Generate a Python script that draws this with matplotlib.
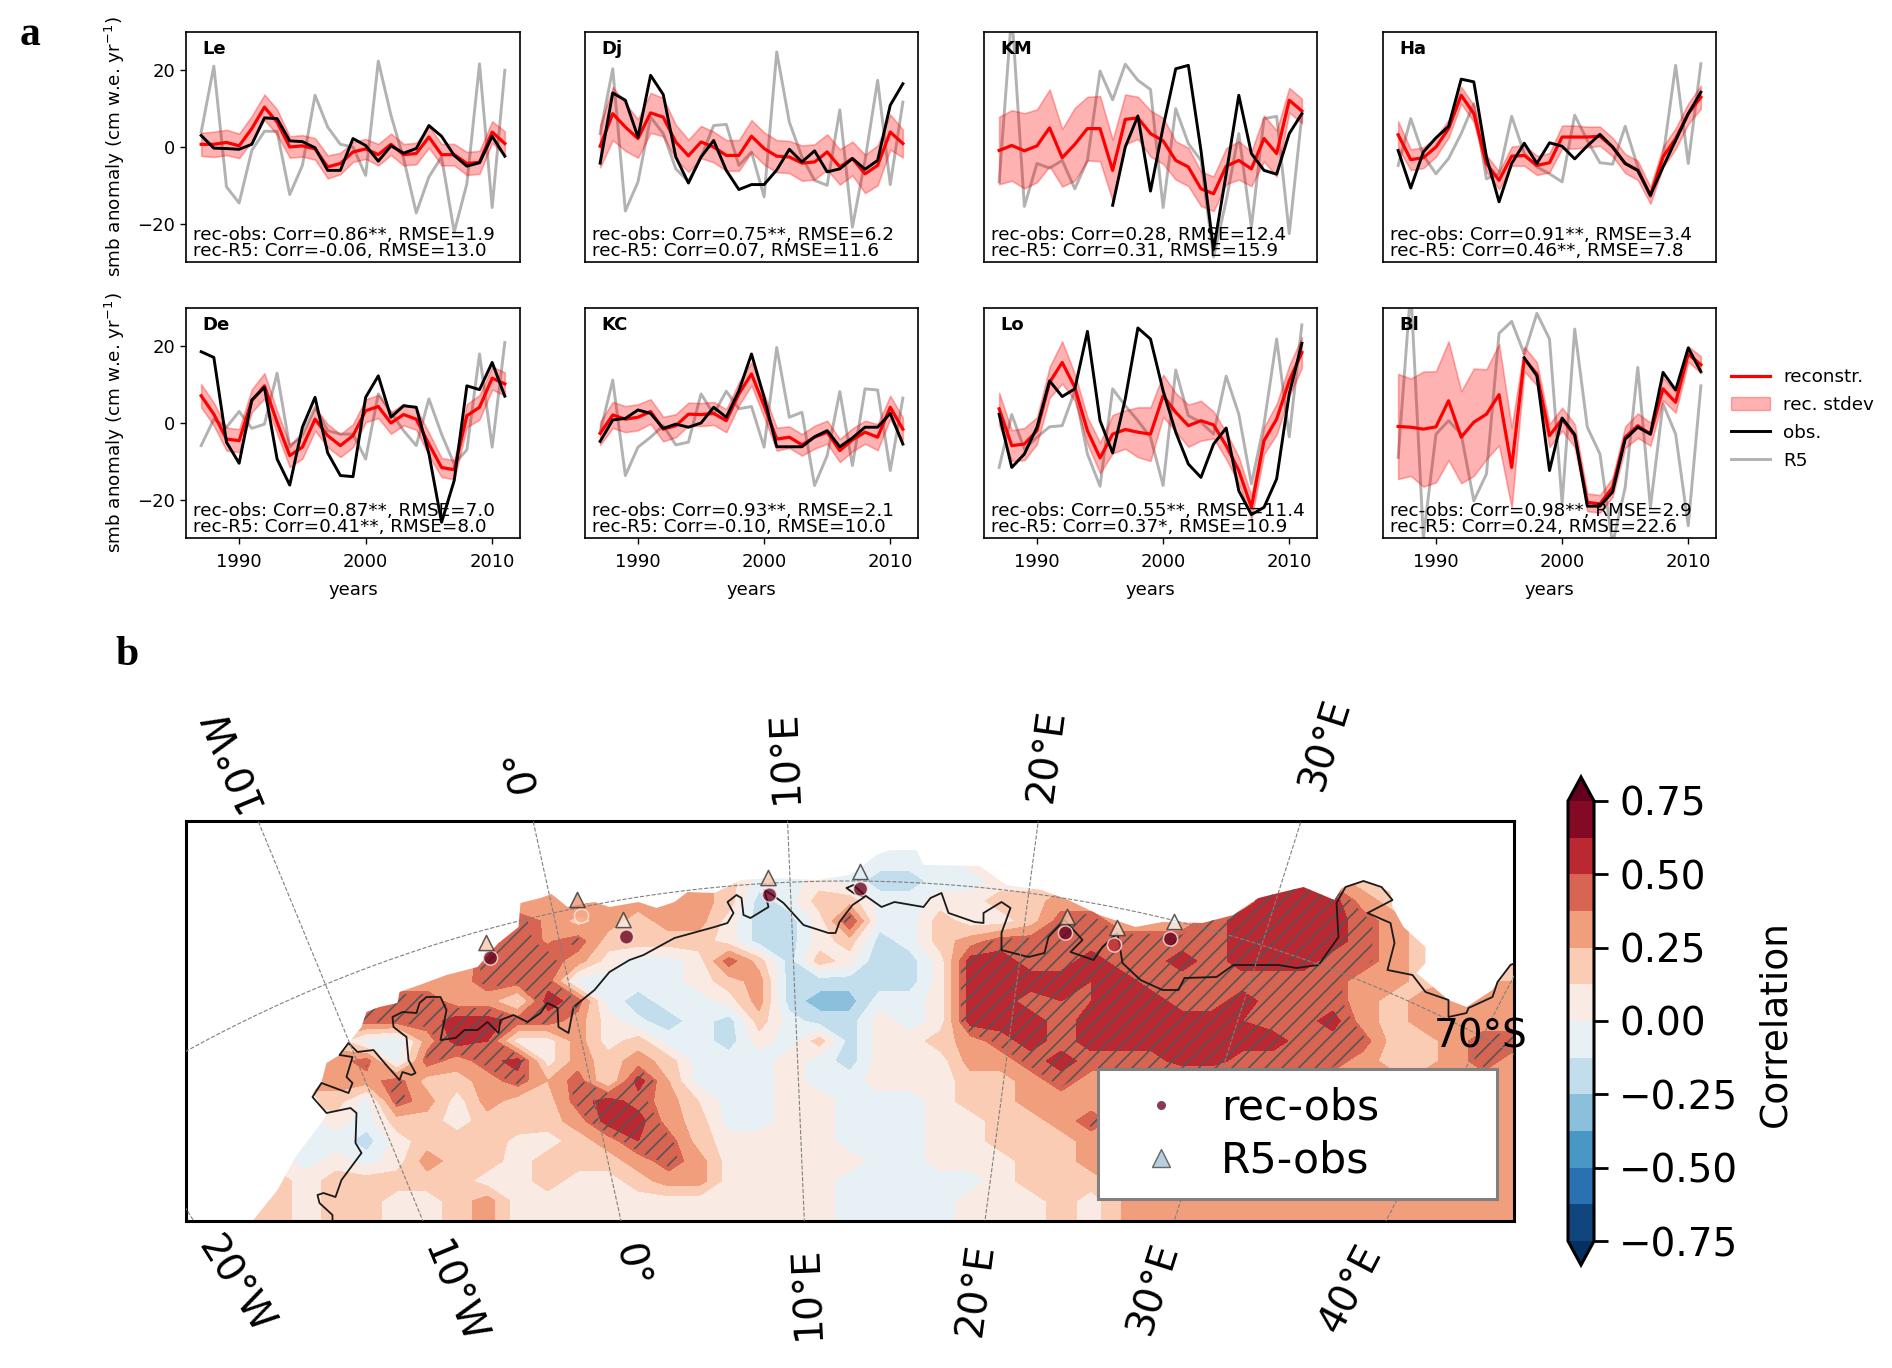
import numpy as np
import matplotlib
matplotlib.use('Agg')
import matplotlib.pyplot as plt
from matplotlib.lines import Line2D
from matplotlib.patches import Patch, Polygon

nan = np.nan
W, H = 1892, 1368

years = np.arange(1987, 2012)

rec_le = [0.7, 0.7, 1.2, 0.3, 4.8, 10.4, 6.5, 0.0, 0.3, -0.5, -5.2, -4.3, -1.3, -0.5, -2.0, 0.7, -2.0, -1.7, 2.6, -2.0, -2.0, -4.3, -4.0, 3.9, 0.9]
std_le = [3.0, 3.3, 3.3, 3.2, 3.3, 3.3, 3.3, 2.8, 2.8, 2.8, 3.0, 2.8, 2.6, 2.6, 2.8, 2.8, 2.8, 2.8, 2.8, 2.8, 2.8, 3.0, 3.0, 2.8, 3.2]
obs_le = [3.0, -0.3, -0.4, -0.6, 0.7, 7.6, 7.4, 1.6, 1.4, -0.2, -6.1, -6.1, 2.2, 0.4, -3.7, 0.3, -1.6, -0.4, 5.6, 2.8, -2.2, -5.0, -4.1, 2.8, -2.4]
r5_le = [3.9, 21.1, -10.4, -14.6, -0.9, 4.1, 4.1, -12.4, -4.8, 13.5, 5.2, 0.7, 0.0, -7.4, 22.4, 8.3, -3.0, -17.2, -7.8, -2.6, -22.2, -9.6, 21.7, -15.8, 20.0]

rec_dj = [0.2, 8.7, 5.2, 2.2, 8.9, 7.8, 1.3, -2.3, 1.3, 0.0, -2.2, -2.2, 2.8, -0.4, -2.4, -2.6, -4.2, -3.9, -1.3, -5.2, -3.0, -7.0, -4.8, 3.9, 0.9]
std_dj = [5.5, 6.9, 6.2, 5.0, 5.2, 5.0, 4.5, 4.2, 4.2, 4.0, 4.0, 4.0, 4.2, 4.2, 4.2, 4.2, 4.6, 4.6, 4.6, 4.6, 4.4, 5.0, 5.2, 4.6, 3.6]
obs_dj = [-4.2, 14.1, 12.2, 2.6, 18.7, 13.7, -2.6, -9.4, -2.6, 1.7, -6.1, -11.1, -9.8, -9.8, -6.0, -0.6, -3.9, -1.0, -6.5, -5.7, -3.0, -5.8, -3.5, 10.9, 16.5]
r5_dj = [3.5, 20.4, -16.7, -9.1, 7.8, 3.5, -5.7, -9.0, -2.6, 5.6, 5.9, -4.8, -1.3, -13.0, 24.8, 6.5, -2.6, -8.7, -10.0, 9.7, -20.9, -3.5, 17.4, -9.8, 11.7]

rec_km = [-0.9, 0.4, -1.0, 0.3, 5.0, -2.8, 0.7, 4.8, 4.8, -6.1, 7.2, 7.6, 3.5, 1.6, -3.5, -5.2, -10.9, -12.2, -5.0, -3.5, -5.7, 2.2, -1.7, 12.2, 9.4]
std_km = [8.8, 9.2, 9.8, 9.5, 10.0, 7.5, 9.5, 8.3, 8.5, 8.0, 6.5, 5.5, 6.0, 6.0, 5.0, 5.0, 4.5, 4.5, 4.7, 5.0, 4.5, 6.0, 6.0, 3.2, 3.2]
obs_km = [nan, nan, nan, nan, nan, nan, nan, nan, nan, -15.2, 0.0, 8.1, -11.5, 5.2, 20.4, 21.3, -0.9, -26.8, -7.0, 13.5, -1.7, -6.1, -7.1, 3.5, 8.7]
r5_km = [-9.1, 35.0, -15.5, -4.3, -5.5, -3.5, -10.9, -3.5, 19.8, 12.3, 21.6, 17.4, 15.0, -15.8, 10.0, 0.9, -3.5, -28.7, -14.0, 3.5, -20.9, 7.4, 8.0, -22.6, 8.3]

rec_ha = [3.2, -3.3, -2.8, 0.0, 4.8, 13.5, 8.7, -4.3, -8.7, -2.4, -2.2, -4.8, -4.1, 2.6, 2.6, 2.6, 2.8, 0.0, -4.3, -6.1, -12.6, -2.6, 2.2, 8.7, 13.0]
std_ha = [3.5, 2.7, 2.7, 2.5, 2.3, 2.2, 2.2, 2.2, 2.3, 2.5, 2.7, 2.5, 2.5, 3.0, 3.0, 2.7, 2.5, 2.4, 2.5, 2.5, 2.2, 2.7, 2.7, 2.7, 3.0]
obs_ha = [-0.9, -10.7, -1.3, 2.4, 5.4, 17.7, 17.0, -2.6, -14.3, -4.3, 1.0, -4.3, 1.1, 0.2, -3.1, 0.3, 3.3, 0.0, -4.3, -6.1, -12.6, -5.2, 1.7, 8.7, 14.3]
r5_ha = [-4.8, 7.4, -2.2, -7.0, -3.0, 3.5, 11.3, -8.3, -7.0, 8.0, -1.7, -5.2, -7.0, -9.1, 8.3, 1.7, -4.1, -4.5, 5.4, -5.2, -13.0, -2.6, 21.3, -4.3, 21.7]

rec_de = [7.1, 2.3, -4.2, -4.6, 5.8, 9.7, 0.2, -8.5, -6.3, 1.0, -3.3, -5.9, -3.3, 3.2, 4.3, 0.0, 2.2, 1.0, -5.5, -11.6, -12.2, 1.9, 4.1, 11.7, 10.2]
std_de = [3.0, 3.0, 3.0, 3.0, 3.0, 3.3, 3.0, 3.0, 3.0, 3.0, 3.0, 3.0, 3.0, 3.0, 3.0, 2.8, 2.8, 2.8, 3.0, 2.5, 2.5, 3.0, 3.2, 3.0, 3.0]
obs_de = [18.6, 17.1, -5.0, -10.5, 6.0, 9.3, -9.4, -16.2, -1.1, 6.7, -7.8, -13.7, -14.0, 6.7, 12.3, 1.5, 4.5, 4.1, -8.0, -25.9, -15.0, 9.7, 8.7, 15.8, 7.0]
r5_de = [-5.9, 1.0, -1.1, 3.0, -1.4, -0.3, 13.0, -6.3, -2.9, 4.1, -2.0, -2.9, -2.9, -9.4, 7.6, 2.8, -2.0, -5.9, 6.3, -2.9, -10.7, -7.0, 18.0, -6.3, 21.0]

rec_kc = [-2.7, 2.1, 1.0, 1.5, 3.0, -1.6, -0.7, 2.3, 2.2, 2.5, 0.6, 7.6, 12.8, 4.5, -4.2, -3.7, -5.7, -3.7, -2.4, -7.2, -4.4, -2.4, -3.7, 4.1, -1.6]
std_kc = [3.0, 3.4, 3.4, 3.4, 3.2, 3.2, 3.0, 3.0, 3.0, 3.0, 3.0, 3.0, 3.0, 3.0, 3.0, 2.8, 2.8, 3.0, 3.0, 3.0, 3.0, 3.0, 3.4, 3.0, 3.0]
obs_kc = [-4.8, 0.8, 1.2, 3.4, 2.5, -1.4, -0.3, -1.1, 0.0, 4.1, 1.5, 8.4, 18.0, 6.7, -6.2, -6.2, -6.2, -3.6, -2.0, -6.2, -3.9, -1.1, -1.1, 2.5, -5.5]
r5_kc = [-2.4, 11.2, -13.7, -6.3, -3.7, -0.7, -5.7, -5.0, 7.6, 2.3, 8.3, 3.7, 4.3, -6.3, 19.7, 1.5, 2.8, -16.3, -8.5, 8.2, -11.1, 8.9, 8.6, -12.4, 6.5]

rec_lo = [3.7, -5.9, -5.5, -2.0, 10.6, 15.8, 9.3, -2.0, -9.1, -2.9, -1.7, -2.4, -2.9, 7.1, 2.8, -0.7, 0.6, -0.5, -5.9, -12.4, -22.0, -4.6, 1.0, 11.0, 18.4]
std_lo = [4.2, 4.0, 4.2, 3.5, 4.0, 5.5, 3.5, 3.5, 4.0, 5.0, 5.0, 6.5, 7.0, 5.5, 5.0, 5.5, 5.2, 3.5, 3.5, 3.5, 3.0, 3.5, 4.0, 4.0, 4.0]
obs_lo = [2.3, -11.6, -8.1, -1.1, 11.0, 6.9, 8.9, 23.9, 0.6, -7.8, 6.3, 24.8, 21.9, 8.4, -2.4, -10.7, -14.2, -5.5, -1.3, -17.7, -23.9, -22.0, -14.6, 7.6, 20.8]
r5_lo = [-11.6, 2.2, -6.8, -3.7, -1.0, -0.7, 8.4, -8.1, -16.5, 8.9, 4.5, 0.6, -3.7, -16.3, 13.8, 1.9, 0.2, -2.9, 12.2, 2.3, -15.9, -0.3, 21.9, -3.6, 25.6]

rec_bl = [-0.9, -1.1, -1.6, -1.0, 5.8, -3.7, 0.2, 2.3, 7.4, -11.6, 16.7, 12.8, -3.3, 1.0, -3.3, -20.7, -21.1, -16.8, -3.7, -0.7, -2.9, 8.9, 5.4, 18.0, 15.2]
std_bl = [13.7, 12.7, 15.0, 14.5, 15.5, 12.0, 14.0, 11.7, 13.2, 10.5, 3.2, 3.0, 3.0, 3.0, 3.0, 2.3, 2.3, 2.5, 2.8, 3.2, 3.0, 3.0, 2.7, 2.0, 2.2]
obs_bl = [nan, nan, nan, nan, nan, nan, nan, nan, nan, nan, 17.0, 12.3, -12.4, 1.3, -3.0, -21.7, -21.7, -18.0, -4.2, -1.1, -2.9, 13.2, 8.6, 19.6, 13.4]
r5_bl = [-9.0, 35.0, -30.0, -2.9, 0.6, -2.9, -20.3, -13.3, 23.4, 26.5, 18.0, 28.6, 21.9, -21.0, 24.5, -1.1, -8.1, -31.6, -16.8, 14.5, -22.0, 5.0, -2.9, -26.8, 9.7]

station_names = ['Le', 'Dj', 'KM', 'Ha', 'De', 'KC', 'Lo', 'Bl']
rec_series = [rec_le, rec_dj, rec_km, rec_ha, rec_de, rec_kc, rec_lo, rec_bl]
std_series = [std_le, std_dj, std_km, std_ha, std_de, std_kc, std_lo, std_bl]
obs_series = [obs_le, obs_dj, obs_km, obs_ha, obs_de, obs_kc, obs_lo, obs_bl]
r5_series = [r5_le, r5_dj, r5_km, r5_ha, r5_de, r5_kc, r5_lo, r5_bl]
stats_obs = ['Corr=0.86**, RMSE=1.9', 'Corr=0.75**, RMSE=6.2', 'Corr=0.28, RMSE=12.4', 'Corr=0.91**, RMSE=3.4',
             'Corr=0.87**, RMSE=7.0', 'Corr=0.93**, RMSE=2.1', 'Corr=0.55**, RMSE=11.4', 'Corr=0.98**, RMSE=2.9']
stats_r5 = ['Corr=-0.06, RMSE=13.0', 'Corr=0.07, RMSE=11.6', 'Corr=0.31, RMSE=15.9', 'Corr=0.46**, RMSE=7.8',
            'Corr=0.41**, RMSE=8.0', 'Corr=-0.10, RMSE=10.0', 'Corr=0.37*, RMSE=10.9', 'Corr=0.24, RMSE=22.6']

# correlation field, hundredths, read cell by cell (rows 20 map units apart)
corr_rows = [
    [31]*19 + [-6]*7 + [6]*19,
    [31]*19 + [-6]*7 + [6]*19,
    [31]*19 + [-6]*7 + [6]*19,
    [31]*18 + [19, -6, -6, 6, -6, -19, -19, -6, -6, 6, 6, 19, 19, 31, 31, 31, 44, 56, 56, 56, 31, 19, 19, 19, 19, 19, 19],
    [31]*13 + [44, 31, 31, 31, 31, 19, -19, -6, 19, 19, -6, -6, 6, 6, 19, 19, 31, 31, 31, 31, 31, 44, 44, 56, 56, 56, 31, 19, 19, 19, 19, 19],
    [31]*11 + [42, 36, 19, 31, 19, 31, 31, 6, -19, -19, 6, 50, -6, -6, 19, 6, 6, 19, 44, 44, 31, 31, 31, 44, 56, 56, 56, 56, 44, 31, 19, 19, 19, 19],
    [31]*11 + [44, 36, 44, 19, 19, 19, 19, 6, -19, -19, 6, 19, -19, -6, 19, 31, 44, 44, 44, 44, 44, 44, 44, 44, 56, 56, 56, 56, 44, 31, 19, 19, 19, 19],
    [31]*10 + [42, 44, 44, 31, 6, -6, -6, 6, 44, 19, -19, 19, 6, -25, -19, 6, 56, 56, 44, 44, 56, 44, 44, 56, 44, 56, 56, 56, 44, 44, 31, 19, 19, 19, 19],
    [31]*9 + [31, 44, 44, 44, -6, -6, -6, -6, 6, 19, 31, -19, -19, -19, -19, -19, 6, 56, 56, 56, 56, 50, 56, 44, 44, 44, 44, 44, 44, 44, 31, 31, 19, 25, 25, 25],
    [44]*9 + [31, 31, 10, 56, 44, -6, -19, -6, -6, 6, 31, -19, -31, -31, -6, -6, 6, 56, 56, 44, 50, 50, 56, 56, 44, 44, 56, 44, 44, 44, 31, 19, 31, 31, 31, 31],
    [44]*9 + [56, 56, 44, 44, 31, 6, -10, -19, -6, -19, 19, -6, -19, -19, 6, -6, 6, 56, 56, 56, 44, 56, 56, 56, 56, 56, 50, 44, 44, 56, 31, 19, 31, 31, 31, 31],
    [6]*5 + [19, -6, -12, 31, 56, 50, 6, 6, 31, 6, 19, -6, -6, -19, 6, -6, 19, -19, 6, 6, 19, 31, 44, 56, 44, 56, 56, 56, 56, 56, 56, 56, 44, 44, 44, 19, 19, 31, 44, 44],
    [31]*6 + [44, -6, 44, 31, 44, 56, 6, 31, 19, 31, 19, -6, -6, -6, 6, -6, -19, 6, 6, 6, 31, 31, 44, 56, 44, 44, 44, 56, 56, 44, 44, 44, 44, 31, 19, 19, 31, 44, 31],
    [31]*7 + [44, 19, 19, 31, 44, 25, 44, 12, 56, 25, -6, -6, -6, 6, -6, -6, 6, 6, 6, 19, 19, 31, 44, 31] + [31]*14,
    [19]*6 + [-6, 44, 31, 6, 31, 19, 19, 44, 56, 44, 31, 12, -6, -6, 6, 6, -6, -6, -6, 6, 19, 19, 31, 31, 31] + [31]*14,
    [-6]*5 + [6, -6, 19, 19, 6, 19, 25, 19, 31, 56, 56, 31, 19, -6, -6, 6, 6, -6, -6, -6, 6, 6, 19, 19, 31, 44] + [31]*14,
    [6]*4 + [-6, -6, -19, 6, 19, 19, 25, 6, 6, 19, 31, 50, 44, 19, 6, 6, 6, 6, -6, -6, -6, 6, 6, 19, 19, 19, 31] + [31]*14,
    [6]*4 + [-6, 6, -6, 6, 31, 19, 19, 6, 19, 19, 19, 31, 44, 31, 6, 6, 6, 6, 6, -6, -6, 6, 6, 6, 19, 19, 31] + [31]*14,
    [19]*4 + [6, 19, 19, 19, 19, 19, 6, 6, 19, 6, 6, 19, 31, 31, 6, 6, 6, 6, -6, -6, -6, -6, -6, 6, 19, 19, 19] + [31]*14,
    [19]*4 + [6, 19, 19, 6, 6, 19, 31, 6, 6, 6, 6, 6, 6, 6, 6, 6, 6, 6, -6, -6, -6, -6, 6, 6, 6, 19, 6, 25] + [31]*13,
    [19]*4 + [6, 19, 19, 6, 6, 19, 31, 6, 6, 6, 6, 6, 6, 6, 6, 6, 6, 6, -6, -6, -6, -6, 6, 6, 6, 19, 6, 25] + [31]*13,
]
corr_levels = np.linspace(-0.75, 0.75, 13)
corr_ticks = [-0.75, -0.5, -0.25, 0, 0.25, 0.5, 0.75]

# edge of the data area and the grounding line, in map units
edge_x = [60, 67, 92, 110, 138, 141, 127, 136, 141, 154, 163, 176, 181, 194, 212, 214, 234, 261, 292, 313, 333, 335, 355, 366, 382, 409, 424, 453, 471, 489, 502, 529, 556, 583, 632, 663, 669, 691, 705, 731, 738, 794, 821, 856, 883, 914, 950, 977, 1017, 1048, 1073, 1093, 1118, 1149, 1156, 1178, 1205, 1207, 1218, 1240, 1240, 1231, 1263, 1281, 1307, 1325, 1335, 1335]
edge_y = [405, 400, 369, 336, 299, 292, 272, 261, 242, 234, 222, 206, 191, 186, 182, 171, 164, 154, 146, 122, 106, 82, 77, 73, 86, 81, 86, 81, 87, 81, 71, 72, 59, 57, 59, 54, 51, 34, 29, 29, 44, 45, 64, 69, 79, 94, 106, 101, 102, 94, 77, 72, 66, 79, 67, 59, 71, 86, 106, 126, 142, 152, 179, 186, 169, 142, 142, 405]
line_x = [147, 147, 134, 132, 138, 150, 156, 176, 170, 171, 165, 141, 127, 136, 163, 167, 161, 167, 154, 163, 172, 188, 199, 214, 217, 226, 230, 223, 221, 208, 207, 217, 231, 234, 241, 255, 261, 255, 270, 279, 292, 302, 313, 315, 328, 342, 355, 362, 372, 373, 383, 388, 409, 424, 444, 458, 489, 507, 529, 542, 548, 542, 551, 556, 558, 565, 583, 579, 587, 598, 618, 643, 650, 654, 667, 679, 668, 661, 668, 679, 696, 709, 738, 745, 756, 763, 789, 798, 798, 816, 825, 816, 816, 843, 859, 863, 879, 897, 885, 908, 917, 932, 937, 955, 977, 993, 999, 1031, 1048, 1093, 1111, 1133, 1153, 1151, 1160, 1178, 1196, 1207, 1182, 1205, 1209, 1202, 1227, 1240, 1263, 1263, 1281, 1283, 1307, 1312, 1325, 1330]
line_y = [400, 394, 382, 374, 372, 376, 359, 332, 322, 292, 287, 292, 276, 262, 272, 262, 256, 236, 234, 222, 231, 229, 242, 259, 251, 254, 252, 239, 216, 206, 196, 191, 192, 182, 176, 176, 189, 219, 217, 209, 209, 201, 212, 199, 194, 201, 192, 182, 187, 206, 212, 186, 169, 151, 139, 134, 117, 112, 106, 102, 92, 81, 74, 77, 94, 97, 86, 69, 74, 82, 104, 112, 112, 101, 84, 76, 72, 67, 64, 74, 86, 81, 86, 77, 72, 92, 101, 102, 92, 81, 87, 112, 129, 136, 132, 116, 99, 119, 131, 139, 126, 112, 142, 159, 169, 169, 157, 156, 144, 144, 147, 144, 116, 82, 66, 60, 66, 79, 92, 102, 122, 149, 154, 171, 179, 196, 192, 187, 176, 161, 144, 142]

site_rec_x = [305, 396, 441, 584, 675, 880, 929, 985]
site_rec_y = [137, 95, 116, 74, 68, 112, 124, 118]
site_rec_corr = [0.75, 0.28, 0.87, 0.86, 0.91, 0.93, 0.55, 0.98]
site_r5_x = [301, 392, 438, 583, 675, 882, 932, 989]
site_r5_y = [122, 79, 99, 57, 51, 96, 107, 101]
site_r5_corr = [0.2, 0.33, 0.07, 0.2, -0.1, 0.2, 0.1, 0.02]

top_lons = [-10, 0, 10, 20, 30]
top_labels = ['10°W', '0°', '10°E', '20°E', '30°E']
bottom_lons = [-20, -10, 0, 10, 20, 30, 40]
bottom_labels = ['20°W', '10°W', '0°', '10°E', '20°E', '30°E', '40°E']
grid_lons = [-20, -10, 0, 10, 20, 30, 40, 50]

plt.rcParams['hatch.color'] = '#555555'
plt.rcParams['hatch.linewidth'] = 1.2

fig = plt.figure(figsize=(W / 100, H / 100), dpi=100)


def add_axes_px(left, top, right, bottom):
    return fig.add_axes([left / W, 1 - bottom / H, (right - left) / W, (bottom - top) / H])


col_edges = [(186, 520), (585, 918), (984, 1317), (1383, 1716)]
row_edges = [(32, 262), (308, 538)]

for i, name in enumerate(station_names):
    left, right = col_edges[i % 4]
    top, bottom = row_edges[i // 4]
    ax = add_axes_px(left, top, right, bottom)
    rec = np.array(rec_series[i])
    std = np.array(std_series[i])
    ax.plot(years, r5_series[i], color='#b2b2b2', lw=2.1, zorder=1)
    ax.fill_between(years, rec - std, rec + std, color='red', alpha=0.3, lw=1.2, zorder=2)
    ax.plot(years, rec, color='red', lw=2.3, zorder=3)
    ax.plot(years, obs_series[i], color='black', lw=2.1, zorder=4)
    ax.set_xlim(1985.8, 2012.2)
    ax.set_ylim(-30, 30)
    ax.set_xticks([1990, 2000, 2010])
    ax.set_yticks([-20, 0, 20])
    ax.tick_params(labelsize=13, length=4.5, width=1)
    ax.tick_params(axis='x', pad=6)
    if i % 4 == 0:
        ax.set_ylabel('smb anomaly (cm w.e. yr$^{-1}$)', fontsize=13.2, labelpad=7)
    else:
        ax.tick_params(left=False, labelleft=False)
    if i < 4:
        ax.tick_params(bottom=False, labelbottom=False)
    else:
        ax.set_xlabel('years', fontsize=13, labelpad=7.5)
    ax.text(0.05, 0.925, name, transform=ax.transAxes, fontsize=13, fontweight='bold', va='center')
    ax.text(0.022, 0.117, 'rec-obs: ' + stats_obs[i], transform=ax.transAxes, fontsize=13.2, va='center')
    ax.text(0.022, 0.048, 'rec-R5: ' + stats_r5[i], transform=ax.transAxes, fontsize=13.2, va='center')
    for spine in ax.spines.values():
        spine.set_linewidth(1.2)

handles = [Line2D([], [], color='red', lw=2.3),
           Patch(facecolor='red', edgecolor='red', alpha=0.3),
           Line2D([], [], color='black', lw=2.1),
           Line2D([], [], color='#b2b2b2', lw=2.1)]
fig.legend(handles, ['reconstr.', 'rec. stdev', 'obs.', 'R5'], loc='upper left',
           bbox_to_anchor=(1731 / W, 1 - 368 / H), borderaxespad=0, borderpad=0, frameon=False,
           fontsize=13.2, handlelength=2.13, handletextpad=0.7, labelspacing=0.54)

# map panel
m_left, m_top, m_right, m_bottom = 185.5, 821, 1514, 1221
ax_map = add_axes_px(m_left, m_top, m_right, m_bottom)
grid_x = np.linspace(0, m_right - m_left, 45)
grid_y = np.linspace(0, m_bottom - m_top, 21)
corr = np.array(corr_rows) / 100
cf = ax_map.contourf(grid_x, grid_y, corr, levels=corr_levels, cmap='RdBu_r', extend='both', zorder=1)
hatched = ax_map.contourf(grid_x, grid_y, corr, levels=[0.4, 2], colors='none', hatches=['//'], zorder=2)
edge = Polygon(np.column_stack([edge_x, edge_y]), closed=True, transform=ax_map.transData)
cf.set_clip_path(edge)
hatched.set_clip_path(edge)
ax_map.plot(line_x, line_y, color='#1a1a1a', lw=1.3, zorder=3)

# graticule: pole and 70S radius in map units
pole_x, pole_y, radius_70 = 662, 1430, 1370
lon_center = 12.4
for lon in grid_lons:
    theta = np.radians(lon - lon_center)
    r = np.array([1000, 1700])
    ax_map.plot(pole_x + r * np.sin(theta), pole_y - r * np.cos(theta), color='#808080', lw=0.8, ls='--', zorder=4)
theta_arc = np.radians(np.linspace(-60, 60, 200))
ax_map.plot(pole_x + radius_70 * np.sin(theta_arc), pole_y - radius_70 * np.cos(theta_arc),
            color='#808080', lw=0.8, ls='--', zorder=4)

ax_map.scatter(site_rec_x, site_rec_y, c=site_rec_corr, cmap='RdBu_r', vmin=-0.75, vmax=0.75, s=105, marker='o',
               alpha=0.78, edgecolors='#fbe8e4', linewidths=1.1, zorder=5)
ax_map.scatter(site_r5_x, site_r5_y, c=site_r5_corr, cmap='RdBu_r', vmin=-0.75, vmax=0.75, s=120, marker='^',
               alpha=0.8, edgecolors='#333333', linewidths=1.1, zorder=5)

ax_map.set_xlim(0, m_right - m_left)
ax_map.set_ylim(m_bottom - m_top, 0)
ax_map.set_xticks([])
ax_map.set_yticks([])
for spine in ax_map.spines.values():
    spine.set_linewidth(2.2)

label_size = 28
for lon, label, dist in zip(top_lons, top_labels, [69, 52, 64, 66, 80]):
    theta = np.radians(lon - lon_center)
    x0 = pole_x + pole_y * np.tan(theta)
    ax_map.text(x0 + dist * np.sin(theta), -dist * np.cos(theta), label, fontsize=label_size,
                rotation=90 - lon + lon_center, ha='center', va='center')
for lon, label, dist in zip(bottom_lons, bottom_labels, [76, 78, 46, 72, 70, 71, 77]):
    theta = np.radians(lon - lon_center)
    y_edge = m_bottom - m_top
    x0 = pole_x + (pole_y - y_edge) * np.tan(theta)
    rotation = -(90 + lon - lon_center) if lon <= 0 else 90 - lon + lon_center
    ax_map.text(x0 - dist * np.sin(theta), y_edge + dist * np.cos(theta), label, fontsize=label_size,
                rotation=rotation, ha='center', va='center')
ax_map.text(1295, 215, '70°S', fontsize=label_size, ha='center', va='center', zorder=6)

map_handles = [Line2D([], [], marker='o', ls='none', color='#8b3a56', markersize=7.5, markeredgecolor='white'),
               Line2D([], [], marker='^', ls='none', markerfacecolor='#b5d0de', markeredgecolor='#666666', markersize=13)]
leg = ax_map.legend(map_handles, ['rec-obs', 'R5-obs'], loc='lower left', fontsize=30.7,
                    bbox_to_anchor=(0.6865, 0.055, 0.3005, 0.32), mode='expand', borderaxespad=0,
                    handlelength=2.2, handletextpad=0.3, labelspacing=0.27,
                    fancybox=False, framealpha=1, edgecolor='#808080')
leg.get_frame().set_linewidth(2.2)
leg.set_zorder(7)

cax = add_axes_px(1568, 777, 1594, 1265)
cbar = fig.colorbar(cf, cax=cax, ticks=corr_ticks, extendfrac=0.0544)
cbar.ax.tick_params(labelsize=label_size, length=10, width=2, pad=8)
cbar.outline.set_linewidth(2.2)
fig.text(1775 / W, 1 - 1024 / H, 'Correlation', rotation=90, fontsize=27, ha='center', va='center')

fig.text(30 / W, 1 - 35 / H, 'a', family='Liberation Serif', fontweight='bold', fontsize=30, ha='center', va='center')
fig.text(127 / W, 1 - 655 / H, 'b', family='Liberation Serif', fontweight='bold', fontsize=30, ha='center', va='center')

fig.savefig('out.png', dpi=100)
